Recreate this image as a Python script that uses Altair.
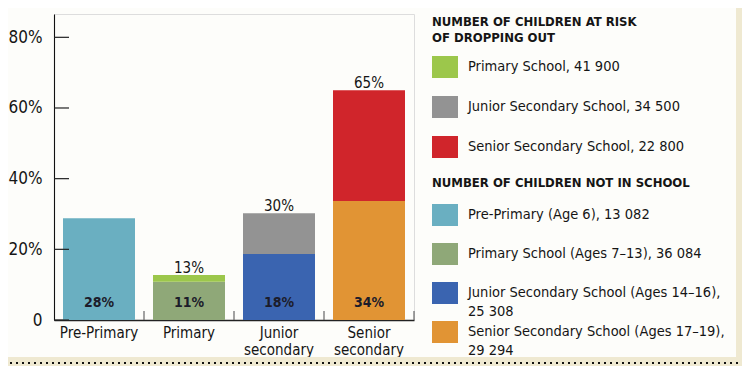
import altair as alt
import pandas as pd

# ---------------- data ----------------
categories = ["Pre-Primary", "Primary", "Junior secondary", "Senior secondary"]

# share of children not in school (bottom segments)
not_in_school = [28.8, 10.8, 18.7, 33.7]
not_in_school_labels = ["28%", "11%", "18%", "34%"]
not_in_school_legend = [
    "Pre-Primary (Age 6), 13 082",
    "Primary School (Ages 7–13), 36 084",
    "Junior Secondary School (Ages 14–16),|25 308",
    "Senior Secondary School (Ages 17–19),|29 294",
]
not_in_school_colors = ["#6aafc1", "#8fa878", "#3a64b0", "#e19434"]

# children at risk of dropping out (stacked on top; total height)
at_risk_categories = ["Primary", "Junior secondary", "Senior secondary"]
at_risk_total = [12.7, 30.2, 65.0]
at_risk_labels = ["13%", "30%", "65%"]
at_risk_legend = [
    "Primary School, 41 900",
    "Junior Secondary School, 34 500",
    "Senior Secondary School, 22 800",
]
at_risk_colors = ["#9cc74b", "#939393", "#d0252b"]

y_ticks = [0, 20, 40, 60, 80]

# ---------------- tables ----------------
base_df = pd.DataFrame({
    "category": categories,
    "value": not_in_school,
    "label": not_in_school_labels,
    "legend": not_in_school_legend,
})
risk_df = pd.DataFrame({
    "category": at_risk_categories,
    "base": [not_in_school[categories.index(c)] for c in at_risk_categories],
    "total": at_risk_total,
    "label": at_risk_labels,
    "legend": at_risk_legend,
})
tick_df = pd.DataFrame({"v": y_ticks})
cat_df = pd.DataFrame({"category": categories})

F = "DejaVu Sans Condensed"
INK = "#151515"

xscale = alt.Scale(domain=categories, paddingInner=0.2, paddingOuter=0.1)
yscale = alt.Scale(domain=[0, 86.6], nice=False, zero=True)

xaxis = alt.Axis(
    title=None, ticks=False, domainColor="#222", domainWidth=1.3,
    labelFont=F, labelFontSize=15, labelColor=INK, labelAngle=0,
    labelPadding=5, labelLineHeight=17, labelExpr="split(datum.label, ' ')",
    grid=False,
)
yaxis = alt.Axis(
    title=None, ticks=False, tickSize=0, domainColor="#111", domainWidth=1.1,
    values=y_ticks, labelFont=F, labelFontSize=17, labelColor=INK,
    labelPadding=12, grid=False,
    labelExpr="datum.value == 0 ? '0' : datum.value + '%'",
)


def X(**kw):
    return alt.X("category:N", sort=categories, scale=xscale, axis=xaxis, **kw)


def legend(title, y, row_pad, title_pad, grid_align):
    return alt.Legend(
        title=title, orient="none", legendX=378, legendY=y, direction="vertical",
        titleFont=F, titleFontSize=13, titleFontWeight="bold", titleColor=INK,
        titleLineHeight=16, titlePadding=title_pad, titleLimit=400,
        labelFont=F, labelFontSize=14.5, labelColor=INK, labelLimit=400,
        labelOffset=10, labelExpr="split(datum.label, '|')",
        symbolType="M-1,-0.846L1,-0.846L1,0.846L-1,0.846Z",
        symbolSize=676, symbolStrokeWidth=0, symbolOpacity=1,
        rowPadding=row_pad, padding=0, gridAlign=grid_align,
    )


bars_base = alt.Chart(base_df).mark_bar(strokeWidth=0).encode(
    x=X(),
    y=alt.Y("value:Q", scale=yscale, axis=yaxis),
    color=alt.Color(
        "legend:N",
        scale=alt.Scale(domain=not_in_school_legend, range=not_in_school_colors),
        legend=legend("NUMBER OF CHILDREN NOT IN SCHOOL", 163, -5, 12, "all"),
    ),
)

bars_risk = alt.Chart(risk_df).mark_bar(strokeWidth=0).encode(
    x=X(),
    y=alt.Y("base:Q", scale=yscale, axis=yaxis),
    y2="total:Q",
    color=alt.Color(
        "legend:N",
        scale=alt.Scale(domain=at_risk_legend, range=at_risk_colors),
        legend=legend(["NUMBER OF CHILDREN AT RISK", "OF DROPPING OUT"], 2, 16, 9, "each"),
    ),
)

inside_labels = alt.Chart(base_df).mark_text(
    font=F, fontSize=14, fontWeight="bold", color="#1c1c2a",
    baseline="alphabetic", dy=-13,
).encode(
    x=X(),
    y=alt.Y(datum=0, scale=yscale, axis=yaxis),
    text="label:N",
)

top_labels = alt.Chart(risk_df).mark_text(
    font=F, fontSize=15, color=INK, baseline="alphabetic", dy=-2,
).encode(
    x=X(),
    y=alt.Y("total:Q", scale=yscale, axis=yaxis),
    text="label:N",
)

y_tick_rules = alt.Chart(tick_df).mark_rule(color="#222", strokeWidth=1.2).encode(
    y=alt.Y("v:Q", scale=yscale, axis=yaxis),
    x=alt.value(0),
    x2=alt.value(15),
)

x_tick_rules = alt.Chart(cat_df).mark_rule(
    color="#666", strokeWidth=1.2, xOffset=9
).encode(
    x=X(bandPosition=1),
    y=alt.value(306),
    y2=alt.value(297),
)

one = alt.Data(values=[{"k": 1}])
frame_right = alt.Chart(one).mark_rect(color="#efe9d1").encode(
    x=alt.value(682), x2=alt.value(700), y=alt.value(-20), y2=alt.value(370)
)
frame_bottom = alt.Chart(one).mark_rect(color="#efe9d1").encode(
    x=alt.value(-60), x2=alt.value(700), y=alt.value(343), y2=alt.value(370)
)
dots = alt.Chart(one).mark_rule(color="#111", strokeWidth=2.2, strokeDash=[2, 4]).encode(
    x=alt.value(-50), x2=alt.value(700), y=alt.value(349)
)

chart = alt.layer(
    frame_right, frame_bottom, dots,
    bars_base, bars_risk, inside_labels, top_labels, y_tick_rules, x_tick_rules,
).resolve_scale(color="independent").properties(
    width=360, height=306,
    autosize=alt.AutoSizeParams(type="none"),
    padding={"left": 46, "top": 6, "right": 328, "bottom": 46},
    background="#fdfdfa",
).configure_view(stroke=None).configure(
    style={"guide-label": {"lineHeight": 19}}
)

chart.save("out.html", embed_options={"renderer": "svg", "actions": False})
